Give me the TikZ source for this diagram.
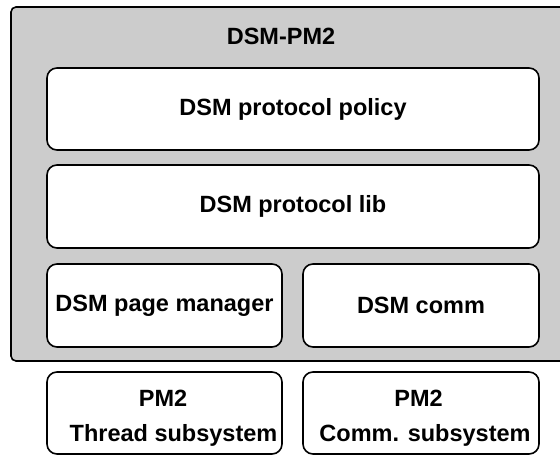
\documentclass[tikz,border=0pt]{standalone}
\usepackage{fontspec}
\setmainfont{Liberation Sans}
\begin{document}
\begin{tikzpicture}[x=1pt,y=1pt,
  lbl/.style={font=\fontsize{23.5}{35}\selectfont\bfseries},
  layer/.style={draw=black, line width=1.6pt, fill=white, rounded corners=10pt,
    inner sep=0pt, align=center, lbl},
  outerbox/.style={draw=black, line width=1.6pt, fill=black!20, rounded corners=5pt, inner sep=0pt}]
\useasboundingbox (0,0) rectangle (560,455);
\clip (0,0) rectangle (560,455);
\node[outerbox, minimum width=564pt, minimum height=354pt] (outer) at (293,271) {};
\node[lbl] (title) at (281,419) {DSM-PM2};
\node[layer, minimum width=492pt, minimum height=82pt] (policy) at (293,346) {DSM protocol policy};
\node[layer, minimum width=492pt, minimum height=83pt] (lib) at (293,248.5) {DSM protocol lib};
\node[layer, minimum width=235pt, minimum height=83pt] (pagemgr) at (164.5,149.5) {DSM page manager};
\node[layer, minimum width=236pt, minimum height=83pt] (comm) at (421,149.5) {DSM comm};
\node[layer, minimum width=235pt, minimum height=82pt] (thread) at (164.5,42) {};
\node[lbl, anchor=base] (threadA) at (163,48) {PM2};
\node[lbl, anchor=base] (threadB) at (173.5,13) {Thread subsystem};
\node[layer, minimum width=236pt, minimum height=82pt] (pmcomm) at (421,42) {};
\node[lbl, anchor=base] (pmcommA) at (418.5,48) {PM2};
\node[lbl, anchor=base] (pmcommB) at (425,13) {Comm. subsystem};
\end{tikzpicture}
\end{document}
